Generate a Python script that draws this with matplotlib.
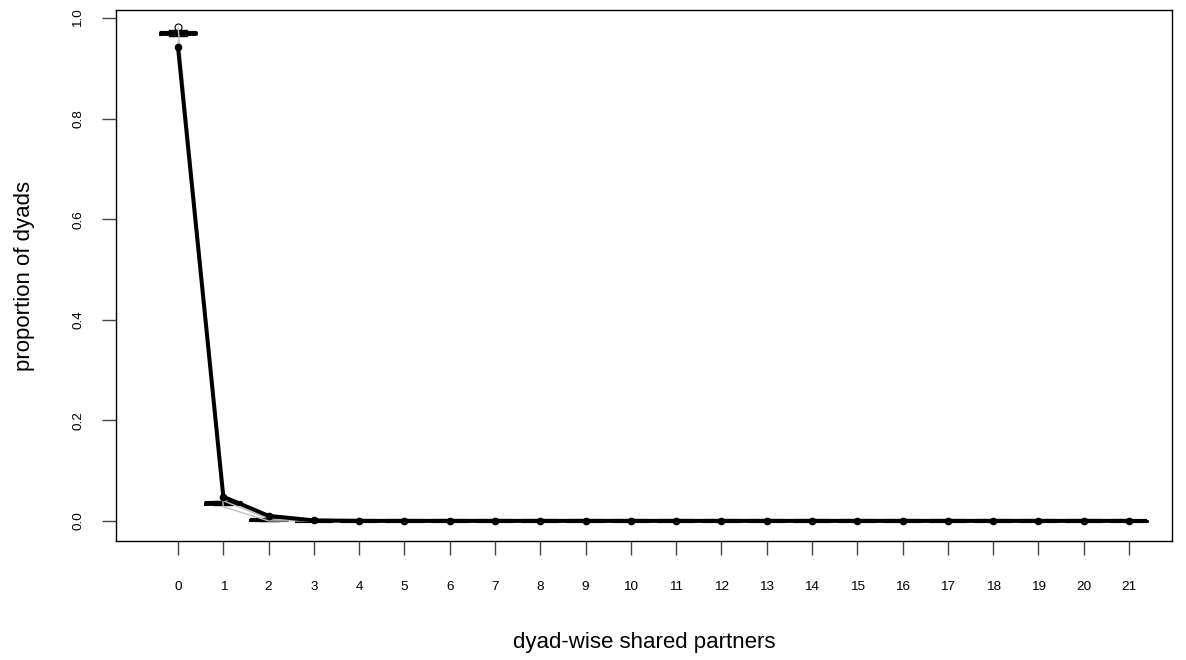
import matplotlib
matplotlib.use("Agg")
import matplotlib.pyplot as plt

plt.rcParams["font.family"] = ["Liberation Sans", "DejaVu Sans"]

# dyad-wise shared partners 0..21
dsp = list(range(22))

# observed proportions
observed = [0.942, 0.048, 0.010, 0.001] + [0.0] * 18

# simulated boxplot summaries
box_q1 = [0.968, 0.034, 0.001, 0.0] + [0.0] * 18
box_med = [0.970, 0.036, 0.001, 0.0] + [0.0] * 18
box_q3 = [0.972, 0.038, 0.002, 0.0] + [0.0] * 18
whisk_lo = [0.964, 0.031, 0.000, 0.0] + [0.0] * 18
whisk_hi = [0.976, 0.040, 0.003, 0.0] + [0.0] * 18
outlier_0 = [0.982]

# simulated range lines (light gray)
sim_lo = [0.955, 0.028, 0.000, 0.0] + [0.0] * 18
sim_hi = [0.982, 0.040, 0.004, 0.0] + [0.0] * 18

fig = plt.figure(figsize=(11.86, 6.6), dpi=100)
ax = fig.add_axes([0.0978, 0.1803, 0.8904, 0.8045])

stats = []
for i in dsp:
    stats.append(
        {
            "med": box_med[i],
            "q1": box_q1[i],
            "q3": box_q3[i],
            "whislo": whisk_lo[i],
            "whishi": whisk_hi[i],
            "fliers": outlier_0 if i == 0 else [],
        }
    )

ax.bxp(
    stats,
    positions=dsp,
    widths=0.8,
    boxprops=dict(color="black", linewidth=2.0),
    medianprops=dict(color="black", linewidth=3.0, solid_capstyle="butt"),
    whiskerprops=dict(color="black", linewidth=1.0, linestyle="--"),
    capprops=dict(color="black", linewidth=1.0),
    flierprops=dict(marker="o", markerfacecolor="none", markeredgecolor="black",
                    markersize=5, markeredgewidth=0.8),
    manage_ticks=False,
)

ax.plot(dsp, sim_lo, color="#c0c0c0", linewidth=1.0, zorder=3)
ax.plot(dsp, sim_hi, color="#c0c0c0", linewidth=1.0, zorder=3)

ax.plot(dsp, observed, color="black", linewidth=2.9, marker="o",
        markersize=4.5, zorder=4, solid_capstyle="round")

ax.set_xlim(-1.37, 21.95)
ax.set_ylim(-0.04, 1.016)

ax.set_xticks(dsp)
ax.set_xticklabels([str(v) for v in dsp], fontsize=9.7)
ax.set_yticks([0.0, 0.2, 0.4, 0.6, 0.8, 1.0])
ax.set_yticklabels(["0.0", "0.2", "0.4", "0.6", "0.8", "1.0"], fontsize=9.7,
                   rotation=90, va="center")
ax.tick_params(axis="both", length=10, width=1, color="#444444")
ax.tick_params(axis="x", pad=19)
ax.tick_params(axis="y", pad=13)

for sp in ax.spines.values():
    sp.set_linewidth(1.0)

ax.set_xlabel("dyad-wise shared partners", fontsize=16, labelpad=28)
ax.set_ylabel("proportion of dyads", fontsize=16, labelpad=27)

fig.savefig("out.png", dpi=100)
